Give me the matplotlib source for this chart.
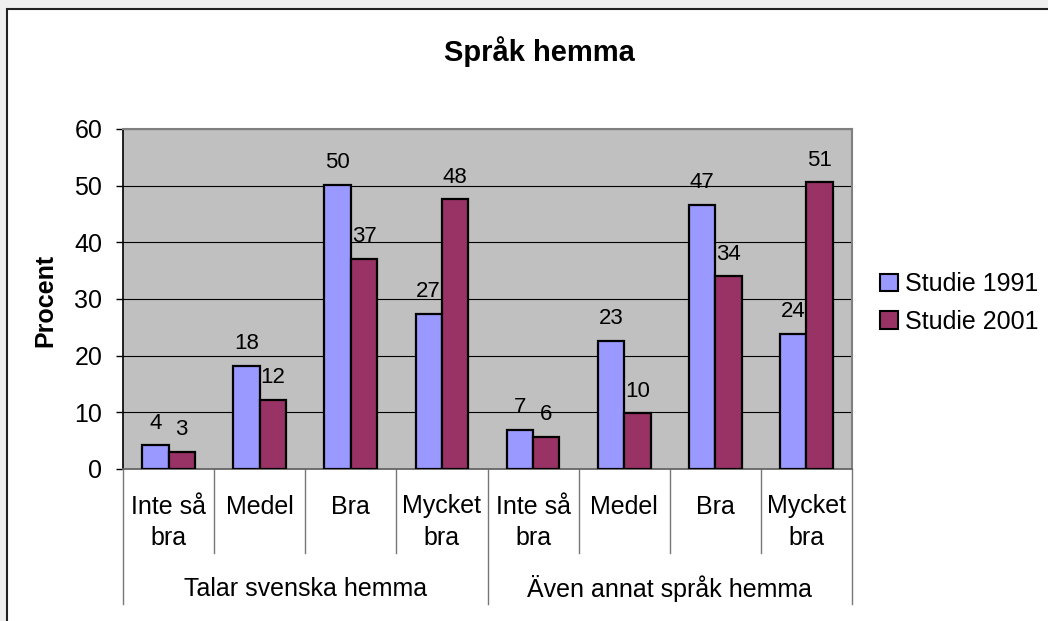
import matplotlib.pyplot as plt
import matplotlib.transforms as mtransforms
from matplotlib.patches import Patch, Rectangle

plt.rcParams['font.family'] = ['Liberation Sans', 'DejaVu Sans']

categories = ["Inte så\nbra", "Medel", "Bra", "Mycket\nbra",
              "Inte så\nbra", "Medel", "Bra", "Mycket\nbra"]
groups = ["Talar svenska hemma", "Även annat språk hemma"]
studie_1991 = [4.2, 18.2, 50.1, 27.4, 6.9, 22.6, 46.6, 23.8]
studie_2001 = [3.0, 12.2, 37.1, 47.6, 5.7, 9.8, 34.0, 50.6]
series_names = ["Studie 1991", "Studie 2001"]
colors = ["#9999FF", "#993366"]

W, H = 1048, 621
fig = plt.figure(figsize=(W / 100, H / 100), dpi=100, facecolor="#EFEFEF")
fig.patches.append(Rectangle((7 / W, -0.05), 1.1, 1 - 9 / H + 0.05,
                             transform=fig.transFigure, facecolor="white",
                             edgecolor="#222222", linewidth=1.5, zorder=-1))

ax = fig.add_axes([123 / W, (H - 469) / H, 729 / W, 340 / H])
ax.set_zorder(2)
ax.set_facecolor("#C0C0C0")

fs = 18
x = list(range(len(categories)))
bw = 0.29
for vals, off, c in [(studie_1991, -bw / 2, colors[0]), (studie_2001, bw / 2, colors[1])]:
    bars = ax.bar([i + off for i in x], vals, width=bw, color=c,
                  edgecolor="black", linewidth=1.6, zorder=3)
    for b, v in zip(bars, vals):
        ax.annotate(f"{v:.0f}", (b.get_x() + b.get_width() / 2, v),
                    xytext=(0, 12), textcoords="offset points",
                    ha="center", va="baseline", fontsize=16, zorder=4)

ax.set_xlim(-0.5, 7.5)
ax.set_ylim(0, 60)
ax.set_yticks(range(0, 61, 10))
ax.tick_params(axis="y", labelsize=fs, length=5, width=1, pad=10)
ax.set_xticks([])
ax.yaxis.grid(True, color="black", linewidth=0.8)
ax.set_axisbelow(True)
for s in ["top", "right"]:
    ax.spines[s].set_color("#808080")
    ax.spines[s].set_linewidth(1.5)
ax.spines["bottom"].set_color("#666666")
ax.spines["bottom"].set_linewidth(1.3)
ax.spines["left"].set_color("black")
ax.spines["left"].set_linewidth(1.2)

# category axis below the plot
trans = mtransforms.blended_transform_factory(ax.transData, ax.transAxes)
for i, lab in enumerate(categories):
    ax.text(i, -0.075, lab, transform=trans, ha="center", va="top",
            fontsize=fs, linespacing=1.4)
for i in range(9):
    xb = i - 0.5
    y1 = -0.397 if i % 4 == 0 else -0.247
    ax.plot([xb, xb], [0, y1], transform=trans, color="#777777",
            linewidth=1, clip_on=False)
for g, lab in enumerate(groups):
    ax.text(g * 4 + 1.5, -0.352, lab, transform=trans, ha="center",
            va="center", fontsize=fs)

fig.text(539 / W, 1 - 52 / H, "Språk hemma", ha="center", va="center",
         fontsize=21, fontweight="bold")
fig.text(45 / W, 1 - 300 / H, "Procent", ha="center", va="center",
         rotation=90, fontsize=fs, fontweight="bold")

handles = [Patch(facecolor=c, edgecolor="black", linewidth=1.5) for c in colors]
fig.legend(handles, series_names, loc="center left",
           bbox_to_anchor=(880 / W, 1 - 303 / H), frameon=False, fontsize=fs,
           handlelength=0.7, handleheight=0.7, handletextpad=0.3,
           labelspacing=0.55, borderpad=0, borderaxespad=0)

fig.savefig("out.png", dpi=100, facecolor=fig.get_facecolor())
